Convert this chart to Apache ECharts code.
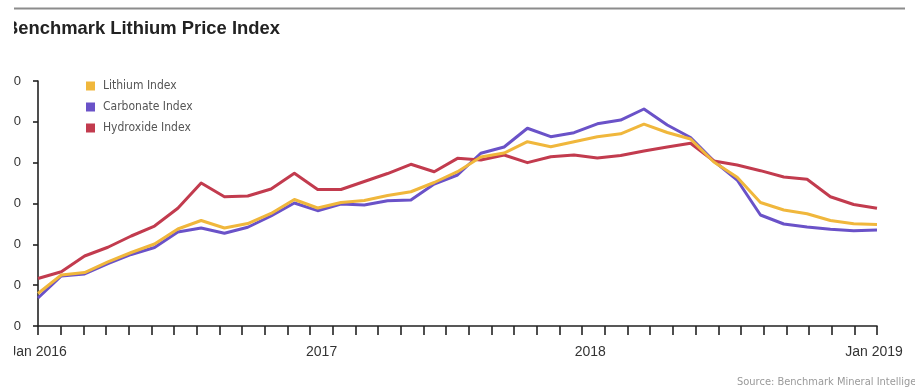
<!DOCTYPE html>
<html>
<head>
<meta charset="utf-8">
<script src="https://cdn.jsdelivr.net/npm/echarts@6/dist/echarts.min.js"></script>
<style>
  html, body { margin: 0; padding: 0; background: #fff; }
  #chart { width: 915px; height: 390px; }
</style>
</head>
<body>
<div id="chart"></div>
<script>
// ---- data ----
const months = [
  '2016-01','2016-02','2016-03','2016-04','2016-05','2016-06','2016-07','2016-08','2016-09','2016-10','2016-11','2016-12',
  '2017-01','2017-02','2017-03','2017-04','2017-05','2017-06','2017-07','2017-08','2017-09','2017-10','2017-11','2017-12',
  '2018-01','2018-02','2018-03','2018-04','2018-05','2018-06','2018-07','2018-08','2018-09','2018-10','2018-11','2018-12',
  '2019-01'
];
const lithiumIndex = [39.8, 62.4, 65.5, 78.4, 90.0, 100.4, 118.8, 129.2, 120.0, 125.5, 137.8, 154.9,
  144.5, 151.2, 153.7, 159.8, 164.4, 175.7, 188.9, 206.9, 211.8, 225.7, 219.6, 225.7,
  231.8, 235.3, 247.1, 236.9, 229.0, 200.8, 182.1, 151.2, 142.0, 137.5, 129.2, 125.3, 124.3];
const carbonateIndex = [34.3, 61.2, 63.7, 76.5, 87.6, 96.1, 115.1, 120.0, 113.5, 120.9, 134.7, 150.6,
  141.2, 149.4, 148.2, 153.4, 154.3, 173.9, 184.9, 211.5, 219.2, 242.1, 231.8, 236.7,
  247.6, 252.2, 265.7, 246.1, 230.8, 202.0, 178.8, 135.9, 124.9, 121.2, 118.4, 116.7, 117.6];
const hydroxideIndex = [58.2, 66.5, 85.7, 96.4, 110.2, 122.4, 144.1, 175.1, 158.3, 159.2, 167.8, 187.0,
  167.1, 167.1, 176.9, 186.7, 198.0, 188.9, 205.3, 203.3, 209.4, 200.0, 207.3, 209.4,
  205.7, 208.8, 214.3, 219.2, 223.7, 202.0, 197.1, 190.2, 182.4, 179.6, 158.3, 148.8, 144.1];
// 38 x-axis tick positions; labels on a few of them
const xTickLabels = ['Jan 2016','','','','','','','','','','','',
  '2017','','','','','','','','','','','',
  '2018','','','','','','','','','','','','','Jan 2019'];
const yMin = 0, yMax = 300, yStep = 50;
const seriesNames = ['Lithium Index', 'Carbonate Index', 'Hydroxide Index'];

// ---- chart ----
const COLORS = { 'Lithium Index': '#F0B73C', 'Carbonate Index': '#6A52C8', 'Hydroxide Index': '#C23B4E' };
const narrow = "'Liberation Sans Narrow', 'DejaVu Sans Condensed', 'Roboto Condensed', 'Open Sans Condensed', 'Noto Sans Condensed', 'Arial Narrow', Roboto, sans-serif";
const sans = "'Liberation Sans', Arial, Helvetica, sans-serif";

const chart = echarts.init(document.getElementById('chart'), null, { renderer: 'canvas' });

function line(name, data) {
  return {
    name: name, type: 'line', data: data, xAxisIndex: 0, yAxisIndex: 0,
    symbol: 'none', smooth: false, animation: false,
    lineStyle: { color: COLORS[name], width: 3, join: 'round' },
    itemStyle: { color: COLORS[name] }
  };
}

chart.setOption({
  animation: false,
  backgroundColor: '#ffffff',
  title: {
    text: 'Benchmark Lithium Price Index',
    left: 5, top: 20, padding: 0,
    textStyle: { fontFamily: sans, fontWeight: 'bold', fontSize: 18.4, color: '#222' }
  },
  legend: {
    data: seriesNames,
    orient: 'vertical',
    left: 86, top: 80, padding: 0,
    icon: 'rect', itemWidth: 9, itemHeight: 9, itemGap: 9,
    textStyle: { fontFamily: narrow, fontSize: 12, color: '#555', lineHeight: 12, padding: [0, 0, 0, 3] }
  },
  grid: { left: 38, right: 38, top: 81, bottom: 64, containLabel: false, outerBoundsMode: 'none' },
  xAxis: [
    {
      type: 'category', data: months, boundaryGap: false, show: false, position: 'bottom'
    },
    {
      type: 'category', data: xTickLabels, boundaryGap: false, position: 'bottom',
      axisLine: { show: true, onZero: false, lineStyle: { color: '#222', width: 1.6 } },
      axisTick: { show: true, interval: 0, length: 9, lineStyle: { color: '#222', width: 1.6 } },
      axisLabel: {
        interval: 0, margin: 19, fontFamily: sans, fontSize: 14, color: '#333',
        formatter: function (v) {
          if (v === '2017') return '{a|' + v + '}';
          if (v === '2018') return '{b|' + v + '}';
          if (v === 'Jan 2019') return '{c|' + v + '}';
          return v;
        },
        rich: {
          a: { padding: [0, 0, 0, 23], fontFamily: sans, fontSize: 14, color: '#333' },
          b: { padding: [0, 0, 0, 16], fontFamily: sans, fontSize: 14, color: '#333' },
          c: { padding: [0, 6, 0, 0], fontFamily: sans, fontSize: 14, color: '#333' }
        }
      },
      splitLine: { show: false }
    }
  ],
  yAxis: {
    type: 'value', min: yMin, max: yMax, interval: yStep,
    axisLine: { show: true, lineStyle: { color: '#222', width: 1.6 } },
    axisTick: { show: true, length: 5, lineStyle: { color: '#222', width: 1.6 } },
    axisLabel: { margin: 17, fontFamily: sans, fontSize: 13, color: '#333' },
    splitLine: { show: false }
  },
  series: [
    line('Carbonate Index', carbonateIndex),
    line('Hydroxide Index', hydroxideIndex),
    line('Lithium Index', lithiumIndex)
  ],
  graphic: [
    {
      type: 'line', z: 50,
      shape: { x1: 14, y1: 8.5, x2: 905, y2: 8.5 },
      style: { stroke: '#8c8c8c', lineWidth: 2 }
    },
    {
      type: 'text', left: 737, top: 377, z: 50,
      style: { text: 'Source: Benchmark Mineral Intelligence', fill: '#9a9a9a', font: "11px " + narrow }
    },
    {
      type: 'rect', z: 100, left: 0, top: 0,
      shape: { x: 0, y: 0, width: 14, height: 390 },
      style: { fill: '#ffffff' }
    }
  ]
});
</script>
</body>
</html>
